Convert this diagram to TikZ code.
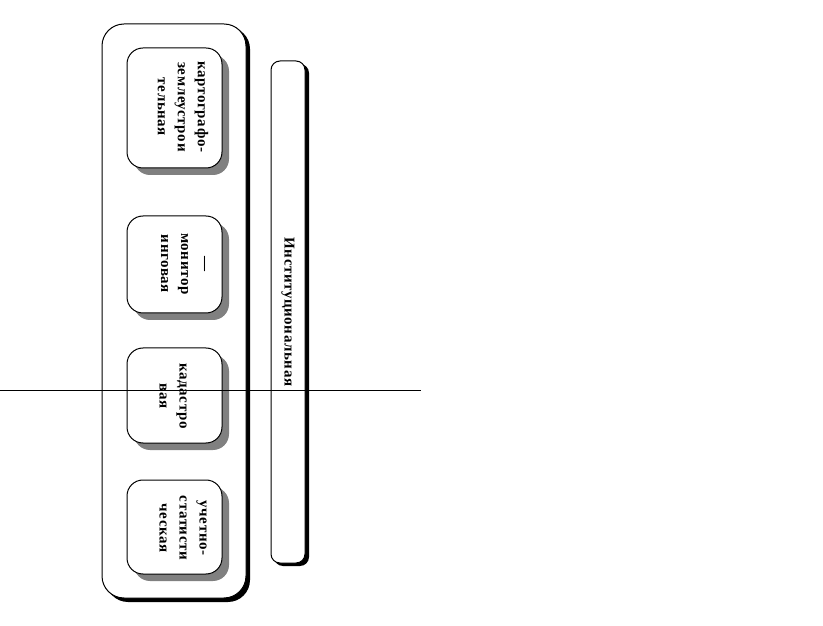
\documentclass[tikz,border=0pt]{standalone}
\usepackage{fontspec}
\setmainfont{Liberation Serif}
\newfontfamily\lblfont[LetterSpace=4]{Liberation Serif}
\begin{document}
\begin{tikzpicture}[x=1pt,y=1pt,
  frame/.style={draw=black,line width=1pt,fill=white},
  blackshadow/.style={fill=black,draw=none},
  grayshadow/.style={fill=black!50,draw=none},
  label/.style={rotate=-90,align=center,font=\lblfont\fontsize{15}{20}\selectfont\bfseries,inner sep=0pt}]
\useasboundingbox (0,0) rectangle (823,625);
% outer container
\fill[blackshadow,rounded corners=22] (106,598) rectangle (250,23);
\draw[frame,rounded corners=22] (102,601) rectangle (246,27);
% inner boxes (gray shadows)
\foreach \t/\b in {577/457, 409/312, 277/182, 145/51}{
  \fill[grayshadow,rounded corners=16] (134,\t-7) rectangle (229,\b-7);
  \draw[frame,rounded corners=16] (127,\t) rectangle (222,\b);
}
\node[label] (b1) at (183,518) {картографо-\\землеустрои\\тельная};
\node[label] (b2) at (183,361) {—\\монитор\\инговая};
\node[label] (b3) at (173,229) {кадастро\\вая};
\node[label] (b4) at (183,97) {учетно-\\статисти\\ческая};
% right bar
\fill[blackshadow,rounded corners=9] (274,561) rectangle (309,59);
\draw[frame,rounded corners=9] (271,564) rectangle (305,62);
\node[label] (inst) at (288,313) {Институциональная};
% horizontal line
\coordinate (l0) at (0,234.5);
\coordinate (l1) at (421,234.5);
\draw[line width=1pt] (l0) -- (l1);
\end{tikzpicture}
\end{document}
